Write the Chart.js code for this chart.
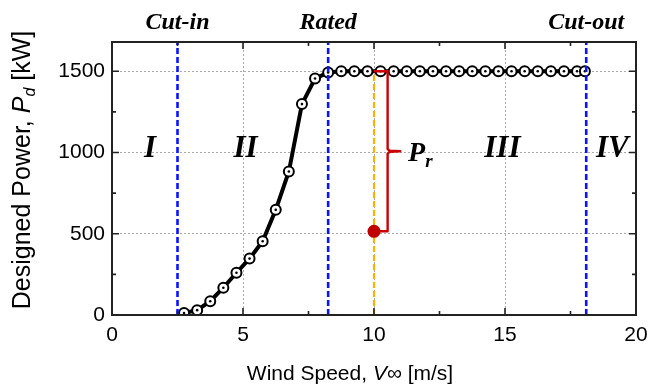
<!DOCTYPE html>
<html>
<head>
<meta charset="utf-8">
<script src="https://cdn.jsdelivr.net/npm/chart.js@4"></script>
<style>
  html, body { margin:0; padding:0; background:#fff; }
  #wrap { width:649px; height:384px; }
</style>
</head>
<body>
<div id="wrap"><canvas id="c"></canvas></div>
<script>
// wind speed [m/s] vs designed power [kW]
const windSpeed = [2.75,3.25,3.75,4.25,4.75,5.25,5.75,6.25,6.75,7.25,7.75,8.25,8.75,9.25,9.75,10.25,10.75,11.25,11.75,12.25,12.75,13.25,13.75,14.25,14.75,15.25,15.75,16.25,16.75,17.25,17.75,18.05];
const power = [12,30,85,168,260,347,454,647,883,1298,1455,1492,1500,1500,1500,1500,1500,1500,1500,1500,1500,1500,1500,1500,1500,1500,1500,1500,1500,1500,1500,1500];

const xTicks = [0,5,10,15,20];
const yTicks = [0,500,1000,1500];
const xMinor = [2.5,7.5,12.5,17.5];
const yMinor = [250,750,1250];
const xMax = 20, yMax = 1680;

const cutIn = 2.5, rated = 8.25, cutOut = 18.1, designSpeed = 10;
const ratedPoint = { x: 10, y: 515 };
const ratedPower = 1500;
const regionLabels = ['I','II','III','IV'];
const regionX = [1.45, 5.1, 14.9, 19.1];
const topLabels = ['Cut-in','Rated','Cut-out'];
const topLabelX = [cutIn, rated, cutOut];

const SANS = '"Liberation Sans", Arial, sans-serif';
const SERIF = '"Liberation Serif", "Times New Roman", serif';

const pts = windSpeed.map((x,i)=>({ x, y: power[i] }));
const vline = (x, top) => [{ x, y: 0 }, { x, y: top }];

// bracket from the rated point up to the rated power
const bx = 10.52;
const mid = (ratedPoint.y + ratedPower) / 2;
const bracket = [
  { x: ratedPoint.x, y: ratedPoint.y }, { x: bx, y: ratedPoint.y },
  { x: bx, y: mid - 14 }, { x: bx + 0.08, y: mid - 3 }, { x: 11.0, y: mid },
  { x: bx + 0.08, y: mid + 3 }, { x: bx, y: mid + 14 },
  { x: bx, y: ratedPower }, { x: ratedPoint.x, y: ratedPower }
];

function drawParts(ctx, parts, x, y, align){
  // parts: [text, font, dy]
  let w = 0;
  parts.forEach(p=>{ ctx.font = p[1]; w += ctx.measureText(p[0]).width; });
  let cx = align === 'center' ? x - w/2 : x;
  parts.forEach(p=>{
    ctx.font = p[1];
    ctx.fillText(p[0], cx, y + (p[2]||0));
    cx += ctx.measureText(p[0]).width;
  });
}

const decor = {
  id: 'decor',
  afterDatasetsDraw(chart){
    const { ctx, chartArea: a, scales: { x, y } } = chart;
    ctx.save();
    ctx.strokeStyle = '#222';
    ctx.lineWidth = 1.6;
    // ticks inward on all sides
    const tick = (len, vals, horiz) => {
      vals.forEach(v=>{
        ctx.beginPath();
        if (horiz){
          const px = x.getPixelForValue(v);
          ctx.moveTo(px, a.bottom); ctx.lineTo(px, a.bottom - len);
          ctx.moveTo(px, a.top); ctx.lineTo(px, a.top + len);
        } else {
          const py = y.getPixelForValue(v);
          ctx.moveTo(a.left, py); ctx.lineTo(a.left + len, py);
          ctx.moveTo(a.right, py); ctx.lineTo(a.right - len, py);
        }
        ctx.stroke();
      });
    };
    tick(7, xTicks, true); tick(4, xMinor, true);
    tick(7, yTicks, false); tick(4, yMinor, false);
    ctx.lineWidth = 2;
    ctx.strokeRect(a.left, a.top, a.right - a.left, a.bottom - a.top);
    ctx.restore();
  },
  afterDraw(chart){
    const { ctx, chartArea: a, scales: { x, y } } = chart;
    ctx.save();
    ctx.fillStyle = '#000';
    ctx.textBaseline = 'alphabetic';
    // top labels
    ctx.textAlign = 'center';
    ctx.font = 'italic bold 24px ' + SERIF;
    topLabels.forEach((t,i)=> ctx.fillText(t, x.getPixelForValue(topLabelX[i]), a.top - 13));
    // region labels
    ctx.font = 'italic bold 31px ' + SERIF;
    regionLabels.forEach((t,i)=> ctx.fillText(t, x.getPixelForValue(regionX[i]), y.getPixelForValue(975)));
    // P_r
    ctx.textAlign = 'left';
    drawParts(ctx, [['P', 'italic bold 28px ' + SERIF, 0], ['r', 'italic bold 19px ' + SERIF, 6]],
      x.getPixelForValue(11.3), y.getPixelForValue(948), 'left');
    // axis titles
    drawParts(ctx, [['Wind Speed, ', '21px ' + SANS, 0], ['V', 'italic 21px ' + SANS, 0], ['\u221E [m/s]', '21px ' + SANS, 0]],
      350, 380, 'center');
    ctx.translate(30, 170);
    ctx.rotate(-Math.PI/2);
    drawParts(ctx, [['Designed Power, ', '25px ' + SANS, 0], ['P', 'italic 25px ' + SANS, 0], ['d', 'italic 16px ' + SANS, 5], [' [kW]', '25px ' + SANS, 0]],
      0, 0, 'center');
    ctx.restore();
  }
};

new Chart(document.getElementById('c'), {
  type: 'scatter',
  data: { datasets: [
    { data: vline(cutIn, yMax), showLine: true, pointRadius: 0, borderColor: '#0a14ff', borderWidth: 2.6, borderDash: [6,3], order: 1 },
    { data: vline(rated, yMax), showLine: true, pointRadius: 0, borderColor: '#0a14ff', borderWidth: 2.6, borderDash: [6,3], order: 1 },
    { data: vline(cutOut, yMax), showLine: true, pointRadius: 0, borderColor: '#0a14ff', borderWidth: 2.6, borderDash: [6,3], order: 1 },
    { data: vline(designSpeed, ratedPower), showLine: true, pointRadius: 0, borderColor: '#ffb000', borderWidth: 2.2, borderDash: [6,3], order: 4 },
    { data: pts, showLine: true, borderColor: '#000', borderWidth: 4, pointRadius: 5, pointBorderWidth: 2, pointBackgroundColor: '#fff', pointBorderColor: '#000', order: 3 },
    { data: pts, showLine: false, pointRadius: 1.3, pointBorderWidth: 0, pointBackgroundColor: '#000', order: 2 },
    { data: bracket, showLine: true, pointRadius: 0, borderColor: '#cc0000', borderWidth: 2.4, borderJoinStyle: 'round', order: 0 },
    { data: [ratedPoint], pointRadius: 6.5, pointBorderWidth: 0, pointBackgroundColor: '#c00000', order: -1 }
  ] },
  options: {
    responsive: true, maintainAspectRatio: false, animation: false,
    layout: { padding: { top: 42, right: 13, left: 0, bottom: 0 } },
    plugins: { legend: { display: false }, tooltip: { enabled: false } },
    scales: {
      x: {
        type: 'linear', min: 0, max: xMax,
        afterBuildTicks: s => { s.ticks = xTicks.map(v=>({ value: v })); },
        afterFit: s => { s.height = 69; s.paddingLeft = 0; s.paddingRight = 0; },
        ticks: { font: { family: SANS, size: 21 }, color: '#000', padding: 8, maxRotation: 0, callback: v => String(v) },
        grid: { drawTicks: false, lineWidth: 1, color: c => (c.tick && (c.tick.value === 0 || c.tick.value === xMax)) ? 'rgba(0,0,0,0)' : '#aaa' },
        border: { display: false, dash: [2,2] }
      },
      y: {
        min: 0, max: yMax,
        afterBuildTicks: s => { s.ticks = yTicks.map(v=>({ value: v })); },
        afterFit: s => { s.width = 112; s.paddingTop = 0; s.paddingBottom = 0; },
        ticks: { font: { family: SANS, size: 21 }, color: '#000', padding: 7, callback: v => String(v) },
        grid: { drawTicks: false, lineWidth: 1, color: c => (c.tick && c.tick.value === 0) ? 'rgba(0,0,0,0)' : '#aaa' },
        border: { display: false, dash: [2,2] }
      }
    }
  },
  plugins: [decor]
});
</script>
</body>
</html>
